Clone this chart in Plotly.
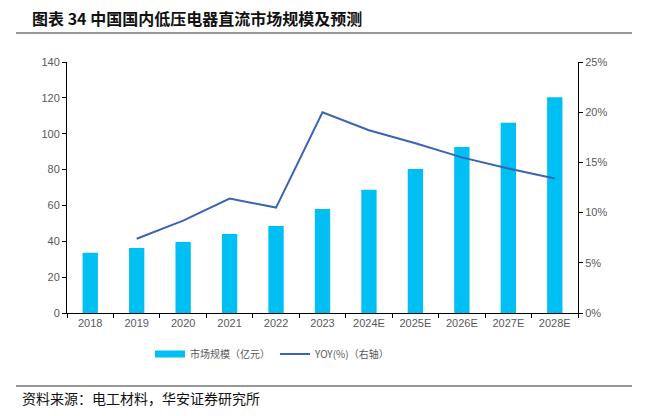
import plotly.graph_objects as go

categories = ["2018", "2019", "2020", "2021", "2022", "2023", "2024E", "2025E", "2026E", "2027E", "2028E"]
market_size = [33.6, 36.2, 39.6, 44.0, 48.5, 58.0, 68.7, 80.3, 92.6, 106.1, 120.3]
yoy_pct = [None, 7.4, 9.2, 11.4, 10.5, 20.0, 18.2, 16.9, 15.5, 14.4, 13.4]

W, H = 645, 416
L, R, T, B = 67, 67, 62, 103
pw = W - L - R
ph = H - T - B

def px_x(p):
    return (p - L) / pw

def px_y(p):
    return (H - B - p) / ph

font_cjk = "Noto Sans CJK SC"
tick_font = dict(family="Arial, Liberation Sans, sans-serif", size=11, color="#595959")
bar_color = "#00BFF3"

fig = go.Figure()
fig.add_trace(go.Bar(
    x=categories, y=market_size, name="市场规模（亿元）",
    marker=dict(color=bar_color, line=dict(width=0)), width=0.33,
    yaxis="y", showlegend=False, legendgroup="bar",
))
# legend-only swatch for the bars (wide rectangle like the reference)
fig.add_trace(go.Scatter(
    x=[None], y=[None], name="市场规模（亿元）", mode="lines",
    line=dict(color=bar_color, width=7), legendgroup="bar",
))
fig.add_trace(go.Scatter(
    x=categories, y=yoy_pct, name="YOY(%)（右轴）", mode="lines",
    line=dict(color="#3B64B4", width=2), yaxis="y2",
))

fig.update_layout(
    width=W, height=H,
    margin=dict(l=L, r=R, t=T, b=B),
    paper_bgcolor="white", plot_bgcolor="white",
    font=dict(family=font_cjk, size=11, color="#595959"),
    showlegend=True,
    legend=dict(orientation="h", x=px_x(150), xanchor="left", y=px_y(354), yanchor="middle",
                font=dict(family=font_cjk, size=10, color="#595959"),
                traceorder="normal", itemwidth=30),
    xaxis=dict(
        type="category", showline=True, linecolor="black", linewidth=1,
        ticks="outside", ticklen=4, tickcolor="black", tickson="boundaries",
        tickfont=tick_font, showgrid=False, zeroline=False,
        range=[-0.5, 10.5],
    ),
    yaxis=dict(
        range=[0, 140], dtick=20, showline=True, linecolor="black", linewidth=1,
        ticks="outside", ticklen=4, tickcolor="black", tickfont=tick_font,
        showgrid=False, zeroline=False,
    ),
    yaxis2=dict(
        range=[0, 25], dtick=5, ticksuffix="%", overlaying="y", side="right",
        showline=True, linecolor="black", linewidth=1,
        ticks="outside", ticklen=4, tickcolor="black", tickfont=tick_font,
        showgrid=False, zeroline=False,
    ),
    bargap=0.5,
)

fig.add_annotation(
    text="图表 34 中国国内低压电器直流市场规模及预测",
    xref="paper", yref="paper", x=px_x(30), y=px_y(18),
    xanchor="left", yanchor="middle", showarrow=False,
    font=dict(family=font_cjk, size=16, color="#111111", weight=600),
)
fig.add_annotation(
    text="资料来源：电工材料，华安证券研究所",
    xref="paper", yref="paper", x=px_x(20), y=px_y(398),
    xanchor="left", yanchor="middle", showarrow=False,
    font=dict(family=font_cjk, size=14, color="#111111"),
)
for yy in (33, 386):
    fig.add_shape(type="line", xref="paper", yref="paper",
                  x0=px_x(16), x1=px_x(632), y0=px_y(yy), y1=px_y(yy),
                  line=dict(color="#333333", width=1.2))

fig.write_html("out.html", config={"displayModeBar": False},
               post_script="document.body.style.margin='0';")
